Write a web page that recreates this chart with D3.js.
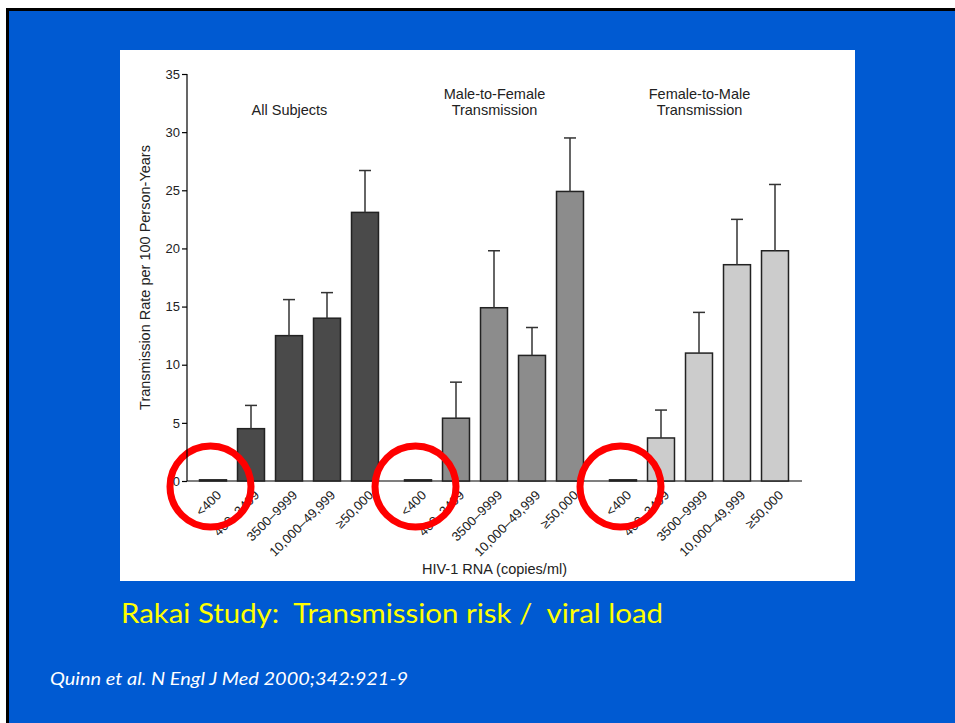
<!DOCTYPE html>
<html>
<head>
<meta charset="utf-8">
<script src="https://cdn.jsdelivr.net/npm/d3@7"></script>
<style>
  html, body { margin: 0; padding: 0; background: #ffffff; }
  svg { display: block; }
</style>
</head>
<body>
<svg id="slide" width="955" height="723"></svg>
<script>
// Viral load categories (HIV-1 RNA, copies/ml)
const categories = ["<400", "400–3499", "3500–9999", "10,000–49,999", "≥50,000"];

// Panels
const groups = ["all", "mtf", "ftm"];
const groupTitles = [["All Subjects"], ["Male-to-Female", "Transmission"], ["Female-to-Male", "Transmission"]];
const groupFills = ["#4a4a4a", "#8c8c8c", "#cccccc"];

// Transmission rate per 100 person-years and upper confidence limit
const allSubjects      = [0.1, 4.5, 12.5, 14.0, 23.1];
const allSubjectsUpper = [null, 6.5, 15.6, 16.2, 26.7];
const maleToFemale      = [0.1, 5.4, 14.9, 10.8, 24.9];
const maleToFemaleUpper = [null, 8.5, 19.8, 13.2, 29.5];
const femaleToMale      = [0.1, 3.7, 11.0, 18.6, 19.8];
const femaleToMaleUpper = [null, 6.1, 14.5, 22.5, 25.5];

const yTicks = [0, 5, 10, 15, 20, 25, 30, 35];

const seriesValues = [allSubjects, maleToFemale, femaleToMale];
const seriesUpper = [allSubjectsUpper, maleToFemaleUpper, femaleToMaleUpper];

const rows = [];
groups.forEach((g, gi) => {
  categories.forEach((c, ci) => {
    rows.push({ group: g, gi, cat: c, ci, value: seriesValues[gi][ci], upper: seriesUpper[gi][ci] });
  });
});

const svg = d3.select("#slide");

// Slide background
svg.append("rect")
  .attr("x", 7.5).attr("y", 9.5)
  .attr("width", 960).attr("height", 730)
  .attr("fill", "#005ad2")
  .attr("stroke", "#000").attr("stroke-width", 3);

// White figure panel
svg.append("rect")
  .attr("x", 120).attr("y", 50)
  .attr("width", 735).attr("height", 531)
  .attr("fill", "#fff");

const font = "'Liberation Sans', Arial, Helvetica, sans-serif";

// Scales
const x0 = d3.scaleBand().domain(groups).range([187, 802]).paddingInner(0).paddingOuter(0);
const x1 = d3.scaleBand().domain(categories).range([7, 197]).paddingInner(0.29).paddingOuter(0.145);
const y = d3.scaleLinear().domain([0, 35]).range([481, 74]);

// Y axis
const yAxis = svg.append("g")
  .attr("transform", "translate(187,0)")
  .call(d3.axisLeft(y).tickValues(yTicks).tickSize(5).tickPadding(2).tickFormat(d3.format("d")));
yAxis.select(".domain").attr("stroke", "#000").attr("stroke-width", 1.2).attr("d", `M0,${y(35)}V${y(0)}`);
yAxis.selectAll(".tick line").attr("stroke", "#000").attr("stroke-width", 1.2);
yAxis.selectAll(".tick text")
  .attr("fill", "#222")
  .style("font-family", font)
  .style("font-size", "13px");

// Y axis title
svg.append("text")
  .attr("transform", `translate(150,${(y(0) + y(35)) / 2}) rotate(-90)`)
  .attr("text-anchor", "middle")
  .attr("fill", "#222")
  .style("font-family", font)
  .style("font-size", "14.5px")
  .text("Transmission Rate per 100 Person-Years");

// X baseline
svg.append("line")
  .attr("x1", x0.range()[0]).attr("x2", x0.range()[1])
  .attr("y1", y(0)).attr("y2", y(0))
  .attr("stroke", "#000").attr("stroke-width", 1.2);

const cx = d => x0(d.group) + x1(d.cat);

// Bars
svg.append("g").selectAll("rect")
  .data(rows)
  .join("rect")
  .attr("x", d => cx(d))
  .attr("y", d => y(d.value))
  .attr("width", x1.bandwidth())
  .attr("height", d => y(0) - y(d.value))
  .attr("fill", d => groupFills[d.gi])
  .attr("stroke", "#222")
  .attr("stroke-width", 1.5);

// Error bars (upper limit only)
const err = svg.append("g").selectAll("g")
  .data(rows.filter(d => d.upper != null))
  .join("g")
  .attr("stroke", "#333")
  .attr("stroke-width", 1.5);
err.append("line")
  .attr("x1", d => cx(d) + x1.bandwidth() / 2)
  .attr("x2", d => cx(d) + x1.bandwidth() / 2)
  .attr("y1", d => y(d.value))
  .attr("y2", d => y(d.upper));
err.append("line")
  .attr("x1", d => cx(d) + x1.bandwidth() / 2 - 6)
  .attr("x2", d => cx(d) + x1.bandwidth() / 2 + 6)
  .attr("y1", d => y(d.upper))
  .attr("y2", d => y(d.upper));

// Category labels, rotated
svg.append("g").selectAll("text")
  .data(rows)
  .join("text")
  .attr("transform", d => `translate(${cx(d) + x1.bandwidth() / 2 + 9},${y(0) + 15}) rotate(-45)`)
  .attr("text-anchor", "end")
  .attr("fill", "#222")
  .style("font-family", font)
  .style("font-size", "13px")
  .text(d => d.cat);

// Panel titles
groups.forEach((g, gi) => {
  const lines = groupTitles[gi];
  const t = svg.append("text")
    .attr("text-anchor", "middle")
    .attr("fill", "#222")
    .style("font-family", font)
    .style("font-size", "14.5px");
  lines.forEach((line, li) => {
    t.append("tspan")
      .attr("x", x0(g) + x0.bandwidth() / 2)
      .attr("y", 115 - (lines.length - 1 - li) * 16)
      .text(line);
  });
});

// X axis title
svg.append("text")
  .attr("x", (x0.range()[0] + x0.range()[1]) / 2)
  .attr("y", 574)
  .attr("text-anchor", "middle")
  .attr("fill", "#222")
  .style("font-family", font)
  .style("font-size", "14.5px")
  .text("HIV-1 RNA (copies/ml)");

// Red rings around the lowest viral-load category
svg.append("g").selectAll("circle")
  .data(rows.filter(d => d.ci === 0))
  .join("circle")
  .attr("cx", d => cx(d) + x1.bandwidth() / 2 - 2.5)
  .attr("cy", y(0) + 5.5)
  .attr("r", 40.5)
  .attr("fill", "none")
  .attr("stroke", "#ff0000")
  .attr("stroke-width", 7);

// Keep the y tick labels readable above the rings
yAxis.raise();

// Slide caption
svg.append("text")
  .attr("x", 121).attr("y", 623)
  .attr("fill", "#ffff00")
  .attr("textLength", 542)
  .attr("lengthAdjust", "spacingAndGlyphs")
  .style("font-family", "Lato, 'Open Sans', sans-serif")
  .style("font-size", "27px")
  .style("white-space", "pre")
  .text("Rakai Study:  Transmission risk /  viral load");

// Citation
svg.append("text")
  .attr("x", 50).attr("y", 685)
  .attr("fill", "#ffffff")
  .attr("textLength", 358)
  .attr("lengthAdjust", "spacingAndGlyphs")
  .style("font-family", "Lato, 'Open Sans', sans-serif")
  .style("font-style", "italic")
  .style("font-size", "17px")
  .text("Quinn et al. N Engl J Med 2000;342:921-9");
</script>
</body>
</html>
